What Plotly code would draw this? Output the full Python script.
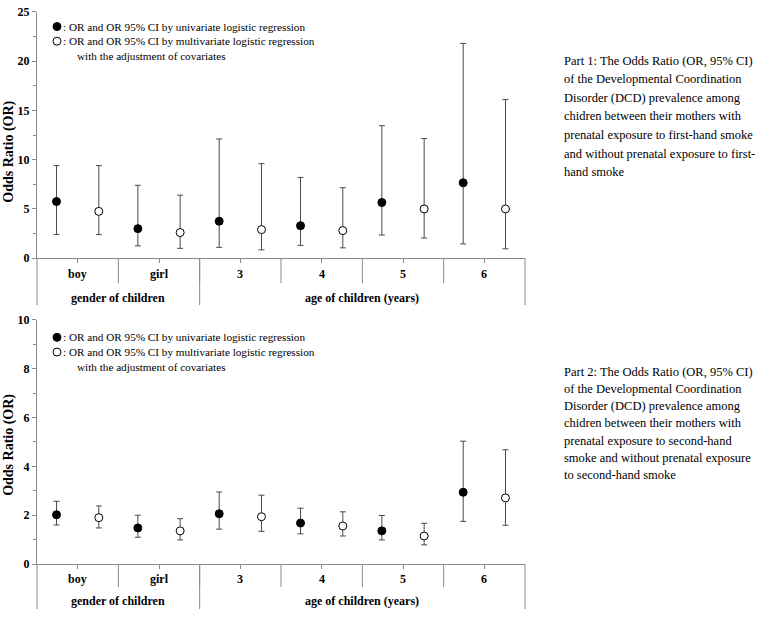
import plotly.graph_objects as go

W, H = 770, 619

# categories (two-level x axis)
groups = ["boy", "girl", "3", "4", "5", "6"]
group_levels = ["gender of children", "gender of children",
                "age of children (years)", "age of children (years)",
                "age of children (years)", "age of children (years)"]

# Part 1: first-hand smoke
fh_uni_or = [5.75, 3.0, 3.75, 3.3, 5.65, 7.65]
fh_uni_lo = [2.4, 1.25, 1.1, 1.3, 2.35, 1.45]
fh_uni_hi = [9.4, 7.4, 12.1, 8.2, 13.45, 21.8]
fh_multi_or = [4.75, 2.6, 2.9, 2.8, 5.0, 5.0]
fh_multi_lo = [2.4, 1.0, 0.85, 1.05, 2.05, 0.95]
fh_multi_hi = [9.4, 6.4, 9.6, 7.15, 12.15, 16.1]

# Part 2: second-hand smoke
sh_uni_or = [2.02, 1.48, 2.06, 1.68, 1.36, 2.94]
sh_uni_lo = [1.6, 1.1, 1.43, 1.24, 0.99, 1.75]
sh_uni_hi = [2.57, 2.0, 2.95, 2.29, 1.99, 5.03]
sh_multi_or = [1.9, 1.36, 1.94, 1.56, 1.15, 2.71]
sh_multi_lo = [1.48, 0.99, 1.34, 1.15, 0.79, 1.59]
sh_multi_hi = [2.38, 1.86, 2.82, 2.14, 1.67, 4.68]

legend_uni = "OR and OR 95% CI by univariate logistic regression"
legend_multi = "OR and OR 95% CI by multivariate logistic regression"
legend_multi2 = "with the adjustment of covariates"

part1_lines = ["Part 1: The Odds Ratio (OR, 95% CI)",
               "of the Developmental Coordination",
               "Disorder (DCD) prevalence among",
               "chidren between their mothers with",
               "prenatal exposure to first-hand smoke",
               "and without prenatal exposure to first-",
               "hand smoke"]
part2_lines = ["Part 2: The Odds Ratio (OR, 95% CI)",
               "of the Developmental Coordination",
               "Disorder (DCD) prevalence among",
               "chidren between their mothers with",
               "prenatal exposure to second-hand",
               "smoke and without prenatal exposure",
               "to second-hand smoke"]

SERIF = '"Liberation Serif", "Times New Roman", serif'
AXIS_GREY = "#8a8a8a"
BAR_GREY = "#4a4a4a"
PLOT_L, PLOT_R = 37, 525
OFFSET = 0.26


def px_x(x):
    return x / W


def px_y(y):
    return 1 - y / H


panels = [
    dict(ax="", uni=(fh_uni_or, fh_uni_lo, fh_uni_hi), multi=(fh_multi_or, fh_multi_lo, fh_multi_hi),
         top=5, bottom=257, ymax=25, dtick=5, minor=2.5, row1=16, row2=40, sep1=25, sep2=47,
         title_y=148, leg_y=20, leg_dy=15, text=part1_lines, text_y=55, text_dy=19),
    dict(ax="2", uni=(sh_uni_or, sh_uni_lo, sh_uni_hi), multi=(sh_multi_or, sh_multi_lo, sh_multi_hi),
         top=320, bottom=570, ymax=10, dtick=2, minor=1, row1=15, row2=37, sep1=23, sep2=45,
         title_y=448, leg_y=338, leg_dy=15, text=part2_lines, text_y=373, text_dy=17.7),
]

fig = go.Figure()
shapes, annotations = [], []
idx = list(range(len(groups)))
n = len(groups)

for p in panels:
    xa, ya = "x" + p["ax"], "y" + p["ax"]
    for (orv, lo, hi), shift, fill in [(p["uni"], -OFFSET, "black"), (p["multi"], OFFSET, "white")]:
        fig.add_trace(go.Scatter(
            x=[i + shift for i in idx], y=orv, mode="markers",
            xaxis=xa, yaxis=ya, showlegend=False,
            marker=dict(size=8, color=fill, line=dict(color="black", width=1)),
            error_y=dict(type="data", symmetric=False,
                         array=[h - o for h, o in zip(hi, orv)],
                         arrayminus=[o - l for o, l in zip(orv, lo)],
                         color=BAR_GREY, thickness=1, width=3),
        ))

    dom_y = [px_y(p["bottom"]), px_y(p["top"])]
    fig.update_layout(**{
        "xaxis" + p["ax"]: dict(
            domain=[px_x(PLOT_L), px_x(PLOT_R)], range=[-0.5, n - 0.5],
            anchor=ya, showline=True, linecolor=AXIS_GREY, linewidth=1,
            tickvals=idx, ticktext=[""] * n, ticks="outside", ticklen=4,
            tickcolor=AXIS_GREY, showgrid=False, zeroline=False, fixedrange=True),
        "yaxis" + p["ax"]: dict(
            domain=dom_y, range=[0, p["ymax"]], anchor=xa,
            showline=True, linecolor=AXIS_GREY, linewidth=1,
            dtick=p["dtick"], ticks="outside", ticklen=4, tickcolor=AXIS_GREY,
            minor=dict(dtick=p["minor"], ticks="outside", ticklen=3, tickcolor=AXIS_GREY),
            tickfont=dict(family=SERIF, size=12, color="black", weight="bold"),
            showgrid=False, zeroline=False, fixedrange=True),
    })
    xd, yd = xa + " domain", ya + " domain"

    # first label row: separators between groups + labels
    for i, g in enumerate(groups):
        annotations.append(dict(xref=xa, yref=ya, x=i, y=0, yshift=-p["row1"], text="<b>%s</b>" % g,
                                showarrow=False, font=dict(family=SERIF, size=12, color="black")))
        if i < n - 1:
            shapes.append(dict(type="line", xref=xd, yref=yd, x0=(i + 1) / n, x1=(i + 1) / n,
                               ysizemode="pixel", yanchor=0, y0=0, y1=-p["sep1"],
                               line=dict(color=AXIS_GREY, width=1)))
    # second label row: group-level separators + labels
    bounds = [0] + [i for i in range(1, n) if group_levels[i] != group_levels[i - 1]] + [n]
    for b in bounds:
        shapes.append(dict(type="line", xref=xd, yref=yd, x0=b / n, x1=b / n,
                           ysizemode="pixel", yanchor=0, y0=0, y1=-p["sep2"],
                           line=dict(color=AXIS_GREY, width=1)))
    for a, b in zip(bounds[:-1], bounds[1:]):
        annotations.append(dict(xref=xa, yref=ya, x=(a + b - 1) / 2, y=0, yshift=-p["row2"],
                                text="<b>%s</b>" % group_levels[a], showarrow=False,
                                font=dict(family=SERIF, size=12, color="black")))

    # y axis title
    annotations.append(dict(xref="paper", yref="paper", x=px_x(9), y=px_y(p["title_y"]),
                            xanchor="center", yanchor="middle",
                            text="<b>Odds Ratio (OR)</b>", textangle=-90, showarrow=False,
                            font=dict(family=SERIF, size=14, color="black")))

    # in-plot legend: marker symbols + text
    for k, fill in enumerate(["black", "white"]):
        shapes.append(dict(type="circle", xref="paper", yref="paper",
                           xsizemode="pixel", ysizemode="pixel",
                           xanchor=px_x(57), yanchor=px_y(p["leg_y"] + k * p["leg_dy"]),
                           x0=-4, x1=4, y0=-4, y1=4, fillcolor=fill,
                           line=dict(color="black", width=1)))
    leg = [(": " + legend_uni, 61), (": " + legend_multi, 61), (legend_multi2, 75)]
    for k, (txt, lx) in enumerate(leg):
        annotations.append(dict(xref="paper", yref="paper", x=px_x(lx), y=px_y(p["leg_y"] + k * p["leg_dy"]),
                                xanchor="left", yanchor="middle", text=txt, showarrow=False,
                                font=dict(family=SERIF, size=11.2, color="black")))

    # description at right
    for k, line in enumerate(p["text"]):
        annotations.append(dict(xref="paper", yref="paper", x=px_x(562), y=px_y(p["text_y"] + k * p["text_dy"]),
                                xanchor="left", yanchor="middle", text=line, showarrow=False,
                                font=dict(family=SERIF, size=12.5, color="black")))

fig.update_layout(
    width=W, height=H,
    margin=dict(l=0, r=0, t=0, b=0),
    plot_bgcolor="white", paper_bgcolor="white",
    shapes=shapes, annotations=annotations,
    showlegend=False,
)

fig.write_html("out.html", config={"displayModeBar": False},
               post_script="document.body.style.margin = '0';")
